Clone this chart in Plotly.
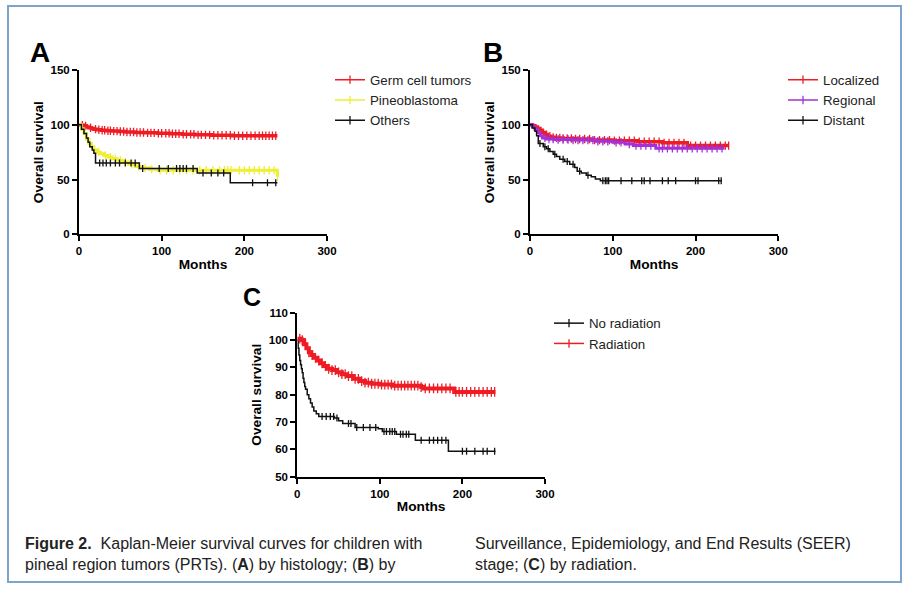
import numpy as np
import plotly.graph_objects as go

W, H = 911, 591

# ---------------- Data ----------------
# Panel A: by histology
germ_t = [0, 3, 6, 9, 12, 15, 18, 22, 27, 33, 40, 48, 57, 68, 80, 95, 110, 125, 140, 160, 185, 240]
germ_s = [100, 99.5, 99, 98, 97.3, 96.5, 96, 95.5, 95, 94.6, 94.2, 93.8, 93.4, 93, 92.6, 92.2, 91.8, 91.3, 90.8, 90.4, 90, 90]
germ_c = [4, 8, 14, 20, 24, 28, 31, 35, 38, 42, 46, 50, 54, 58, 62, 66, 70, 74, 78, 83, 87, 91, 96, 100,
          105, 109, 113, 117, 121, 126, 130, 135, 139, 144, 148, 153, 158, 163, 168, 173, 178, 183, 188,
          193, 198, 203, 208, 213, 218, 222, 226, 230, 234, 238]

pineo_t = [0, 3, 6, 9, 12, 15, 18, 22, 26, 30, 35, 40, 46, 52, 60, 68, 76, 85, 95, 188, 240]
pineo_s = [100, 96, 92, 87, 83, 80, 77, 75, 73.5, 72, 70.5, 69, 67.5, 66, 64, 62, 60.5, 59.5, 58.5, 58.5, 52.5]
pineo_c = [24, 32, 38, 44, 50, 56, 64, 72, 80, 88, 98, 106, 114, 122, 130, 138, 146, 154, 162, 170,
           176, 180, 184, 194, 200, 206, 212, 218, 224, 230, 236, 240]

others_t = [0, 3, 6, 9, 11, 13, 16, 18, 20, 73, 143, 183, 240]
others_s = [100, 96, 92, 88, 84, 80, 77, 74, 65, 60, 56, 47, 47]
others_c = [25, 29, 33, 38, 44, 49, 56, 63, 68, 77, 97, 108, 118, 122, 126, 130, 138, 150, 160, 168,
            175, 210, 228, 238]

# Panel B: by SEER stage
loc_t = [0, 3, 6, 9, 12, 15, 18, 21, 25, 30, 40, 55, 75, 100, 130, 160, 190, 240]
loc_s = [100, 99, 98, 96.5, 95, 93, 91, 89.5, 88.5, 88, 87.5, 87, 86, 85.5, 84.5, 83.5, 81, 81]
loc_c = [20, 24, 28, 32, 36, 40, 45, 50, 55, 60, 66, 72, 78, 84, 90, 96, 102, 108, 114, 120, 126, 132,
         138, 144, 150, 156, 162, 168, 174, 180, 186, 194, 200, 206, 212, 218, 224, 230, 236, 240]

reg_t = [0, 3, 6, 9, 12, 15, 20, 30, 50, 80, 100, 115, 125, 152, 235]
reg_s = [100, 98, 96, 93, 90, 88, 87, 86.5, 86, 85, 84, 82.5, 81, 78.5, 78.5]
reg_c = [18, 23, 28, 34, 40, 46, 52, 58, 64, 70, 76, 82, 88, 94, 104, 110, 120, 128, 134, 140, 146,
         156, 160, 166, 172, 178, 184, 190, 196, 202, 208, 214, 220, 226, 232]

dist_t = [0, 3, 6, 8, 10, 16, 20, 24, 28, 32, 36, 42, 48, 54, 57, 62, 68, 74, 79, 85, 232]
dist_s = [100, 97, 94, 90, 83, 80, 78, 75.5, 73, 71, 68.5, 66.5, 64, 61, 57.5, 56, 54, 52.5, 50.5, 49, 49]
dist_c = [12, 18, 22, 30, 40, 45, 52, 60, 70, 88, 91, 93, 95, 110, 123, 135, 138, 145, 160, 167,
          176, 200, 203, 228, 231]

# Panel C: by radiation
norad_t = [0, 1, 2, 3, 4, 5, 6, 7, 8, 9, 10, 12, 14, 16, 18, 20, 23, 26, 45, 50, 55, 70, 98, 103, 120,
           143, 183, 240]
norad_s = [100, 97, 94.5, 92.5, 91, 89.5, 88, 86, 84.5, 83, 82, 80, 78.5, 77, 75.5, 74, 73, 72, 71.5,
           70.5, 69.5, 68, 67.5, 66.5, 65.5, 63.3, 59.3, 59.3]
norad_c = [30, 35, 40, 44, 48, 62, 65, 72, 80, 88, 95, 105, 108, 112, 115, 118, 125, 128, 132, 135,
           150, 160, 165, 170, 175, 180, 200, 205, 215, 225, 230, 239]

rad_t = [0, 5, 8, 11, 14, 17, 20, 24, 28, 32, 37, 42, 48, 54, 60, 68, 75, 82, 90, 100, 115, 150, 153,
         190, 240]
rad_s = [100.5, 100, 98.5, 97, 95.5, 94.5, 93.5, 92.5, 91.5, 90.5, 89.5, 89, 88.2, 87.5, 86.8, 85.8,
         85, 84.4, 84, 83.7, 83.3, 82.8, 82.3, 81, 81]
rad_c = [3, 6, 10, 14, 18, 22, 26, 30, 34, 38, 42, 46, 50, 54, 58, 62, 66, 70, 74, 78, 82, 86, 90, 94,
         98, 102, 106, 110, 114, 118, 122, 126, 130, 134, 138, 142, 146, 150, 155, 160, 165, 170, 175,
         180, 185, 192, 196, 200, 205, 210, 215, 220, 225, 230, 235, 239]

x_ticks = [0, 100, 200, 300]
y_ticks_ab = [0, 50, 100, 150]
y_ticks_c = [50, 60, 70, 80, 90, 100, 110]

RED = "#ee1c25"
YELLOW = "#eeee33"
PURPLE = "#a530d8"
BLACK = "#111111"

fig = go.Figure()


def step_at(t, s, c):
    t = np.asarray(t, float)
    s = np.asarray(s, float)
    idx = np.searchsorted(t, np.asarray(c, float), side="right") - 1
    return s[np.clip(idx, 0, len(s) - 1)]


def add_curve(t, s, c, color, width, tick, xa, ya, name, legend):
    fig.add_trace(go.Scatter(x=t, y=s, mode="lines", line=dict(color=color, width=width, shape="hv"),
                             xaxis=xa, yaxis=ya, showlegend=False, hoverinfo="skip"))
    fig.add_trace(go.Scatter(x=c, y=step_at(t, s, c), mode="markers",
                             marker=dict(symbol="line-ns", size=tick, line=dict(color=color, width=1.3)),
                             xaxis=xa, yaxis=ya, showlegend=False, hoverinfo="skip"))
    fig.add_trace(go.Scatter(x=[None], y=[None], mode="lines+markers", name=name, legend=legend,
                             line=dict(color=color, width=1.5),
                             marker=dict(symbol="line-ns", size=6, line=dict(color=color, width=1.3)),
                             xaxis=xa, yaxis=ya))


add_curve(germ_t, germ_s, germ_c, RED, 3.5, 6, "x", "y", "Germ cell tumors", "legend")
add_curve(pineo_t, pineo_s, pineo_c, YELLOW, 3, 6, "x", "y", "Pineoblastoma", "legend")
add_curve(others_t, others_s, others_c, BLACK, 1.5, 5, "x", "y", "Others", "legend")

add_curve(loc_t, loc_s, loc_c, RED, 3.5, 6, "x2", "y2", "Localized", "legend2")
add_curve(reg_t, reg_s, reg_c, PURPLE, 3, 6, "x2", "y2", "Regional", "legend2")
add_curve(dist_t, dist_s, dist_c, BLACK, 1.5, 5, "x2", "y2", "Distant", "legend2")

add_curve(norad_t, norad_s, norad_c, BLACK, 1.5, 5, "x3", "y3", "No radiation", "legend3")
add_curve(rad_t, rad_s, rad_c, RED, 4, 7, "x3", "y3", "Radiation", "legend3")

TICKF = dict(family="Arial, Liberation Sans", size=11.5, color="black", weight="bold")
TITLEF = dict(family="Arial, Liberation Sans", size=13.7, color="black", weight="bold")


def xax(dom, anchor):
    return dict(domain=dom, anchor=anchor, range=[0, 300], tickvals=x_ticks, showline=True,
                linecolor="black", linewidth=2, ticks="outside", ticklen=5, tickwidth=2,
                tickcolor="black", showgrid=False, zeroline=False, tickfont=TICKF,
                title=dict(text="Months", font=TITLEF, standoff=3))


def yax(dom, anchor, rng, tv):
    return dict(domain=dom, anchor=anchor, range=rng, tickvals=tv, showline=True,
                linecolor="black", linewidth=2, ticks="outside", ticklen=5, tickwidth=2,
                tickcolor="black", showgrid=False, zeroline=False, tickfont=TICKF,
                title=dict(text="Overall survival", font=TITLEF, standoff=4))


def px(x):
    return x / W


def py(y):
    return (H - y) / H


LEGF = dict(family="Arial, Liberation Sans", size=13.3, color="#222222")


def leg(xl, ytop):
    return dict(x=px(xl), y=py(ytop), xanchor="left", yanchor="top", font=LEGF,
                bgcolor="rgba(0,0,0,0)", tracegroupgap=0)


ANNF = dict(family="Arial, Liberation Sans", color="black", weight="bold")
CAPF = dict(family="Liberation Sans Narrow, Arial Narrow, Arial", size=16, color="#222222")

fig.update_layout(
    width=W, height=H, margin=dict(l=0, r=0, t=0, b=0, pad=0, autoexpand=False),
    paper_bgcolor="white", plot_bgcolor="white",
    xaxis=xax([px(79), px(327)], "y"),
    yaxis=yax([py(234.3), py(70)], "x", [0, 150], y_ticks_ab),
    xaxis2=xax([px(530), px(778.3)], "y2"),
    yaxis2=yax([py(234.3), py(70)], "x2", [0, 150], y_ticks_ab),
    xaxis3=xax([px(297.3), px(545)], "y3"),
    yaxis3=yax([py(476.7), py(312.7)], "x3", [50, 110], y_ticks_c),
    legend=leg(330, 64.5),
    legend2=leg(783, 64.5),
    legend3=leg(549, 308),
    shapes=[dict(type="rect", xref="paper", yref="paper", x0=px(8), x1=px(901), y0=py(582), y1=py(6),
                 line=dict(color="#7da5cc", width=2))],
    annotations=[
        dict(text="A", x=px(40), y=py(53), xref="paper", yref="paper", showarrow=False,
             font=dict(size=28, **ANNF), xanchor="center", yanchor="middle"),
        dict(text="B", x=px(493), y=py(53), xref="paper", yref="paper", showarrow=False,
             font=dict(size=28, **ANNF), xanchor="center", yanchor="middle"),
        dict(text="C", x=px(252), y=py(297), xref="paper", yref="paper", showarrow=False,
             font=dict(size=25, **ANNF), xanchor="center", yanchor="middle"),
        dict(text="<b>Figure 2.</b>  Kaplan-Meier survival curves for children with<br>"
                  "pineal region tumors (PRTs). (<b>A</b>) by histology; (<b>B</b>) by",
             x=px(23), y=py(553.5), xref="paper", yref="paper", showarrow=False, align="left",
             xanchor="left", yanchor="middle", font=CAPF),
        dict(text="Surveillance, Epidemiology, and End Results (SEER)<br>"
                  "stage; (<b>C</b>) by radiation.",
             x=px(473), y=py(553.5), xref="paper", yref="paper", showarrow=False, align="left",
             xanchor="left", yanchor="middle", font=CAPF),
    ],
)

fig.write_html("out.html")
